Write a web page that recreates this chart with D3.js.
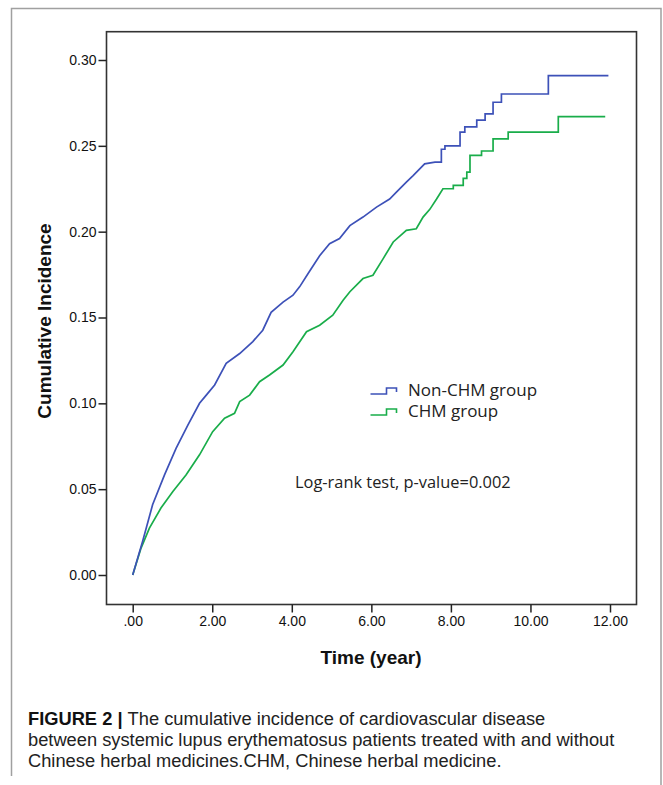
<!DOCTYPE html>
<html>
<head>
<meta charset="utf-8">
<script src="https://cdn.jsdelivr.net/npm/d3@7"></script>
<style>
	body { margin: 0; background: #fff; }
	svg { display: block; }
	.axis text { font-family: "Liberation Sans", Arial, sans-serif; font-size: 14px; fill: #111; }
	.axis line { stroke: #222; stroke-width: 1.5; }
	.axis path { display: none; }
</style>
</head>
<body>
<svg id="chart" width="663" height="785"></svg>
<script>
// Non-CHM group: linear trace, then steps from nonChmStepFrom on
var nonChmTime = [0, 0.25, 0.5, 0.8, 1.09, 1.39, 1.68, 1.85, 2.06, 2.35, 2.69, 3.02, 3.27, 3.48, 3.78, 4.03, 4.2, 4.41, 4.7, 4.95, 5.2, 5.46, 5.79, 6.13, 6.46, 6.63, 6.88, 7.05, 7.34, 7.6,
	7.76, 7.85, 8.23, 8.35, 8.65, 8.86, 9.06, 9.27, 10.45, 11.96];
var nonChmInc = [0, 0.0196, 0.0409, 0.0583, 0.0738, 0.0874, 0.100, 0.1048, 0.1107, 0.1233, 0.129, 0.136, 0.1426, 0.153, 0.159, 0.163, 0.168, 0.1756, 0.186, 0.193, 0.196, 0.2035, 0.2085, 0.2143, 0.219, 0.223, 0.2289, 0.2327, 0.2395, 0.2405,
	0.248, 0.250, 0.258, 0.261, 0.265, 0.2686, 0.2754, 0.2802, 0.2909, 0.2909];
var nonChmStepFrom = 7.6;

// CHM group
var chmTime = [0, 0.21, 0.42, 0.71, 1.01, 1.34, 1.68, 2.01, 2.31, 2.56, 2.69, 2.94, 3.19, 3.44, 3.78, 4.03, 4.37, 4.7, 5.03, 5.29, 5.46, 5.79, 6.04, 6.29, 6.55, 6.88, 7.13, 7.3, 7.47, 7.64, 7.8,
	8.06, 8.31, 8.40, 8.48, 8.77, 9.06, 9.44, 10.70, 11.88];
var chmInc = [0, 0.0157, 0.0273, 0.039, 0.0487, 0.0583, 0.07, 0.0835, 0.0913, 0.0942, 0.101, 0.1048, 0.1126, 0.1165, 0.1223, 0.130, 0.1417, 0.1455, 0.1513, 0.160, 0.165, 0.1727, 0.1746, 0.184, 0.194, 0.2008, 0.2017, 0.2085, 0.213, 0.219, 0.225,
	0.227, 0.231, 0.2347, 0.2444, 0.247, 0.254, 0.258, 0.267, 0.267];
var chmStepFrom = 7.8;

var xTicks = [0, 2, 4, 6, 8, 10, 12];
var yTicks = [0, 0.05, 0.10, 0.15, 0.20, 0.25, 0.30];

var groups = ['Non-CHM group', 'CHM group'];
var colors = ['#3d51b8', '#19ad4a'];
var note = 'Log-rank test, p-value=0.002';
var captionBold = 'FIGURE 2 | ';
var captionLines = [
	'The cumulative incidence of cardiovascular disease',
	'between systemic lupus erythematosus patients treated with and without',
	'Chinese herbal medicines.CHM, Chinese herbal medicine.'
];

var svg = d3.select('#chart');

var frame = {left: 106.5, top: 31.7, right: 636.5, bottom: 604.5};

var xScale = d3.scaleLinear()
	.domain([0, 12])
	.range([132.7, 610]);

var yScale = d3.scaleLinear()
	.domain([0, 0.30])
	.range([575, 60]);

svg.append('rect')
	.attr('width', 663)
	.attr('height', 785)
	.attr('fill', '#fff');

// outer figure border (open at the bottom, image is cropped)
svg.append('path')
	.attr('d', 'M11.5,776V8.5H661V785')
	.attr('fill', 'none')
	.attr('stroke', '#a0a0a0')
	.attr('stroke-width', 1.5);

// plot frame
svg.append('rect')
	.attr('x', frame.left)
	.attr('y', frame.top)
	.attr('width', frame.right - frame.left)
	.attr('height', frame.bottom - frame.top)
	.attr('fill', 'none')
	.attr('stroke', '#333')
	.attr('stroke-width', 1.6);

var yAxis = d3.axisLeft()
	.scale(yScale)
	.tickValues(yTicks)
	.tickFormat(d3.format('.2f'))
	.tickSize(8)
	.tickPadding(2);

svg.append('g')
	.attr('class', 'axis')
	.attr('transform', `translate(${frame.left}, 0)`)
	.call(yAxis);

var xAxis = d3.axisBottom()
	.scale(xScale)
	.tickValues(xTicks)
	.tickFormat(d => d === 0 ? '.00' : d.toFixed(2))
	.tickSize(8)
	.tickPadding(4);

svg.append('g')
	.attr('class', 'axis')
	.attr('transform', `translate(0, ${frame.bottom})`)
	.call(xAxis);

svg.append('text')
	.text('Time (year)')
	.attr('x', 371)
	.attr('y', 664)
	.style('text-anchor', 'middle')
	.style('font-family', '"Liberation Sans", Arial, sans-serif')
	.style('font-weight', 700)
	.style('font-size', '19px')
	.style('fill', '#111');

svg.append('text')
	.text('Cumulative Incidence')
	.attr('transform', 'translate(51, 321) rotate(-90)')
	.style('text-anchor', 'middle')
	.style('font-family', '"Liberation Sans", Arial, sans-serif')
	.style('font-weight', 700)
	.style('font-size', '19px')
	.style('fill', '#111');

// expand to step corners after the given time
var toPoints = function(times, values, stepFrom) {
	var pts = [];
	times.forEach(function(t, i) {
		if (i > 0 && t > stepFrom) pts.push([t, values[i - 1]]);
		pts.push([t, values[i]]);
	});
	return pts;
};

var line = d3.line()
	.x(d => xScale(d[0]))
	.y(d => yScale(d[1]));

var series = [
	toPoints(chmTime, chmInc, chmStepFrom),
	toPoints(nonChmTime, nonChmInc, nonChmStepFrom)
];

svg.selectAll('.km')
	.data(series)
	.enter()
	.append('path')
	.attr('class', 'km')
	.attr('d', line)
	.attr('fill', 'none')
	.attr('stroke', (d, i) => colors[1 - i])
	.attr('stroke-width', 1.7)
	.attr('stroke-linejoin', 'miter');

// legend
var legend = svg.selectAll('.legend')
	.data(groups)
	.enter()
	.append('g')
	.attr('class', 'legend')
	.attr('transform', (d, i) => `translate(370.5, ${394 + i * 21})`);

legend.append('path')
	.attr('d', 'M0,0H16V-6H26V-2')
	.attr('fill', 'none')
	.attr('stroke', (d, i) => colors[i])
	.attr('stroke-width', 1.6);

legend.append('text')
	.text(d => d)
	.attr('x', 37.5)
	.attr('y', 2)
	.style('font-family', '"Open Sans", sans-serif')
	.style('font-size', '17px')
	.style('fill', '#222');

svg.append('text')
	.text(note)
	.attr('x', 295)
	.attr('y', 487.5)
	.style('font-family', '"Open Sans", sans-serif')
	.style('font-size', '16.4px')
	.style('fill', '#222');

// caption
var caption = svg.append('text')
	.attr('x', 28)
	.attr('y', 725)
	.style('font-family', '"Liberation Sans", Arial, sans-serif')
	.style('font-size', '18.3px')
	.style('fill', '#222');

captionLines.forEach(function(l, i) {
	if (i === 0) {
		caption.append('tspan')
			.attr('x', 28)
			.attr('y', 725)
			.style('font-weight', 700)
			.style('fill', '#111')
			.text(captionBold);
		caption.append('tspan').text(l);
	} else {
		caption.append('tspan')
			.attr('x', 28)
			.attr('y', 725 + i * 21)
			.text(l);
	}
});
</script>
</body>
</html>
